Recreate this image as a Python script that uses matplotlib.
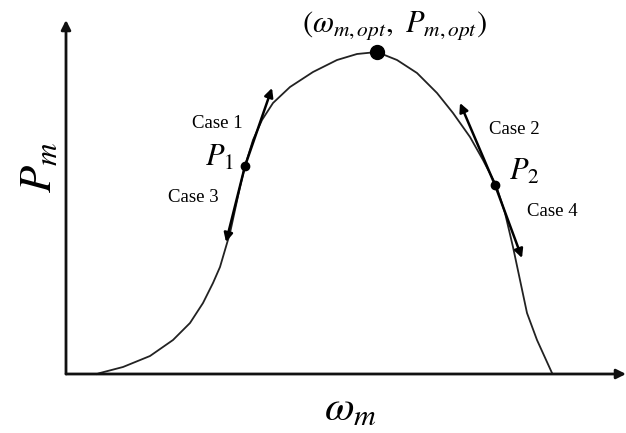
import matplotlib
matplotlib.use("Agg")
import matplotlib.pyplot as plt

plt.rcParams['mathtext.fontset'] = 'stix'
plt.rcParams['font.family'] = ['Liberation Serif', 'DejaVu Serif']

# Curve P_m(omega_m), schematic units
omega = [31, 34, 57, 84, 107, 124, 137, 147, 154, 159, 164, 169, 174, 179, 187, 196,
         207, 224, 247, 271, 291, 311, 331, 351, 371, 387, 404, 417, 430, 439, 447,
         454, 461, 471, 486]
power = [0, 1, 7, 18, 34, 51, 71, 91, 107, 124, 141, 164, 187, 208, 234, 254,
         271, 287, 302, 314, 320, 322, 314, 301, 281, 261, 237, 214, 189, 161, 127,
         94, 61, 34, 1]

# Marked points
opt_point = (311, 322)
p1 = (179, 208)
p2 = (429, 189)

# Tangent arrows: (start, tip)
case_tips = {
    "Case 1": (p1, (206, 286)),
    "Case 3": (p1, (160, 132)),
    "Case 2": (p2, (394, 271)),
    "Case 4": (p2, (456, 116)),
}
case_label_pos = {
    "Case 1": (151, 251),
    "Case 3": (127, 176),
    "Case 2": (448, 245),
    "Case 4": (486, 162),
}

W, H = 626, 433
fig = plt.figure(figsize=(W / 100, H / 100), dpi=100)
ax = fig.add_axes([66 / W, (H - 374) / H, (626 - 66) / W, (374 - 20) / H])
ax.set_xlim(0, 560)
ax.set_ylim(0, 354)
for s in ax.spines.values():
    s.set_visible(False)
ax.set_xticks([])
ax.set_yticks([])
ax.patch.set_alpha(0)

# axes with arrows
ax.annotate("", xy=(560, 0), xytext=(0, 0),
            arrowprops=dict(arrowstyle='-|>', lw=2, color='#111111', mutation_scale=14,
                            shrinkA=0, shrinkB=0), annotation_clip=False)
ax.annotate("", xy=(0, 354), xytext=(0, 0),
            arrowprops=dict(arrowstyle='-|>', lw=2, color='#111111', mutation_scale=14,
                            shrinkA=0, shrinkB=0), annotation_clip=False)

ax.plot(omega, power, color='#222222', lw=1.3, solid_joinstyle='round', clip_on=False)

ax.plot(*opt_point, 'o', color='black', ms=10, clip_on=False)
ax.plot(*p1, 'o', color='black', ms=6)
ax.plot(*p2, 'o', color='black', ms=6)

for name, (start, tip) in case_tips.items():
    ax.annotate("", xy=tip, xytext=start,
                arrowprops=dict(arrowstyle='-|>', lw=1.8, color='black', mutation_scale=13,
                                shrinkA=0, shrinkB=0))
    ax.text(*case_label_pos[name], name, fontsize=13.5, ha='center', va='center')

ax.text(p1[0] - 25, p1[1] + 8, r"$P_1$", fontsize=22, ha='center', va='center')
ax.text(p2[0] + 29, p2[1] + 13, r"$P_2$", fontsize=22, ha='center', va='center')
ax.text(opt_point[0] + 18, opt_point[1] + 27, r"$(\omega_{m,opt},\ P_{m,opt})$",
        fontsize=22, ha='center', va='center')

fig.text(40 / W, 1 - 167 / H, r"$P_m$", fontsize=32, rotation=90, ha='center', va='center')
fig.text(350 / W, 1 - 410 / H, r"$\omega_m$", fontsize=31, ha='center', va='center')

fig.savefig("out.png", dpi=100)
